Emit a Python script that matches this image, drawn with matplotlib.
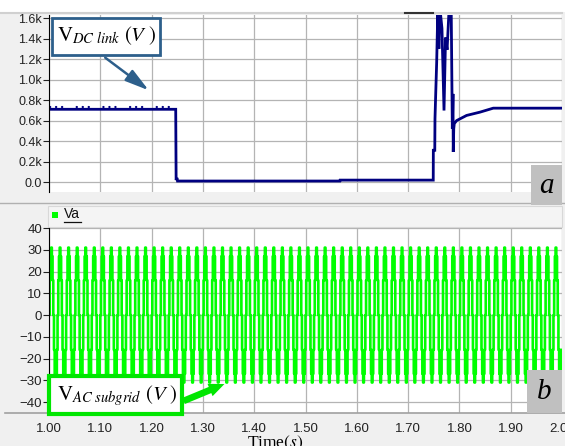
import matplotlib
matplotlib.use("Agg")
import matplotlib.pyplot as plt
from matplotlib.patches import Rectangle, FancyArrowPatch
from matplotlib.lines import Line2D
import numpy as np

plt.rcParams['font.family'] = ['Liberation Sans', 'DejaVu Sans']
plt.rcParams['mathtext.fontset'] = 'stix'

# --- data ---
# DC link voltage (V) vs time (s)
t_dc = [1.000, 1.2470, 1.2478, 1.2485, 1.2500, 1.2505, 1.5670, 1.5675, 1.7490,
        1.7492, 1.7520, 1.7524, 1.7540, 1.7557, 1.7580, 1.7600, 1.7620, 1.7660,
        1.7700, 1.7730, 1.7760, 1.7800, 1.7840, 1.7862, 1.7875, 1.7880, 1.7890,
        1.7900, 1.7947, 1.8140, 1.8400, 1.8660, 2.000]
v_dc = [710, 710, 19, 29, 29, 10, 10, 19, 19,
        310, 310, 618, 890, 1167, 1700, 1300, 1700, 1500,
        698, 1410, 1290, 1700, 1700, 520, 860, 294, 520,
        570, 600, 650, 682, 721, 721]
# ripple dots on top of the initial DC level
t_ripple = [1.002, 1.245]
v_ripple = [730, 730]

# AC subgrid voltage: one stepped 60 Hz cycle, repeated over the window
ac_freq = 60
ac_cycle = [0, 16, 27, 31, 27, 16, 0, -16, -27, -31, -27, -16]
n_cycles = 60

dc_ticks = [0, 200, 400, 600, 800, 1000, 1200, 1400, 1600]
dc_ticklabels = ['0.0', '0.2k', '0.4k', '0.6k', '0.8k', '1.0k', '1.2k', '1.4k', '1.6k']
ac_ticks = [-40, -30, -20, -10, 0, 10, 20, 30, 40]
time_ticks = [1.0, 1.1, 1.2, 1.3, 1.4, 1.5, 1.6, 1.7, 1.8, 1.9, 2.0]
time_ticklabels = ['1.00', '1.10', '1.20', '1.30', '1.40', '1.50', '1.60', '1.70', '1.80', '1.90', '2.00']

ac_vals = np.tile(ac_cycle, n_cycles)
t_ac = 1.0 + np.arange(len(ac_vals)) / (ac_freq * len(ac_cycle))

W, H = 565, 446
fig = plt.figure(figsize=(W / 100, H / 100), dpi=100, facecolor='#f0f0f0')


def box(x0, y0, x1, y1):
    # pixel box (top-left origin) -> figure fraction rect
    return [x0 / W, 1 - y1 / H, (x1 - x0) / W, (y1 - y0) / H]


def pt(x, y):
    return (x / W, 1 - y / H)


def frect(x0, y0, x1, y1, **kw):
    r = box(x0, y0, x1, y1)
    p = Rectangle((r[0], r[1]), r[2], r[3], transform=fig.transFigure, **kw)
    fig.add_artist(p)
    return p


def fline(x0, y0, x1, y1, **kw):
    a, b = pt(x0, y0)
    c, d = pt(x1, y1)
    fig.add_artist(Line2D([a, c], [b, d], transform=fig.transFigure, **kw))


# background bits
frect(0, 0, 565, 12, facecolor='white', edgecolor='none', zorder=-2)
fline(0, 13, 562, 13, color='#d0d0d0', lw=1.5, zorder=-1)
fline(405, 13, 433, 13, color='#333333', lw=1.5, zorder=-1)
fline(0, 203, 565, 203, color='#b0b0b0', lw=1, zorder=-1)
frect(48, 206, 562, 227, facecolor='#f4f4f4', edgecolor='#d8d8d8', lw=0.8, zorder=-1)

grid_kw = dict(color='#b4b4b4', lw=0.9)

# --- top panel: DC link ---
ax1 = fig.add_axes(box(49, 15, 562, 192))
ax1.plot(t_dc, v_dc, color='#000080', lw=2.0, solid_joinstyle='miter')
ax1.plot(t_ripple, v_ripple, color='#000080', lw=1.6, dash_capstyle='round',
         linestyle=(0, (0.1, 2.6, 0.1, 2.6, 0.1, 6.5)))
ax1.set_xlim(1.0, 2.0)
ax1.set_ylim(-97, 1630)
ax1.set_yticks(dc_ticks)
ax1.set_yticklabels(dc_ticklabels)
ax1.set_xticks(time_ticks)
ax1.tick_params(axis='x', length=0, labelbottom=False)
ax1.tick_params(axis='y', length=4, width=0.8, pad=1, labelsize=9, colors='#222222')
ax1.grid(True, **grid_kw)
for s in ['top', 'right', 'bottom']:
    ax1.spines[s].set_visible(False)
ax1.spines['left'].set_color('black')

# --- bottom panel: AC subgrid ---
ax2 = fig.add_axes(box(49, 228, 562, 413))
ax2.plot(t_ac, ac_vals, color='#00ff00', lw=1.9, drawstyle='steps-post')
ax2.set_xlim(1.0, 2.0)
ax2.set_ylim(-45, 40)
ax2.set_yticks(ac_ticks)
ax2.set_xticks(time_ticks)
ax2.set_xticklabels(time_ticklabels)
ax2.tick_params(axis='x', length=0, pad=7, labelsize=9.5, colors='#222222')
ax2.tick_params(axis='y', length=4, width=0.8, pad=1, labelsize=9.5, colors='#222222')
ax2.grid(True, **grid_kw)
for s in ['top', 'right', 'bottom']:
    ax2.spines[s].set_visible(False)
ax2.spines['left'].set_color('black')
fline(5, 413, 565, 413, color='#a0a0a0', lw=1.2, zorder=3)

# legend strip
frect(52, 212, 58, 218, facecolor='#00ff00', edgecolor='none', zorder=3)
fig.text(*pt(64, 218), 'Va', fontsize=10, color='#111111', va='baseline', zorder=3)
fline(64, 221.5, 81, 221.5, color='#111111', lw=0.9, zorder=3)

fig.text(*pt(275, 434), r'Time$(s)$', fontsize=12.5, family='Liberation Serif',
         ha='center', va='top')

# annotation boxes
blue = '#2d5f8b'
frect(52, 18, 160, 55, facecolor='white', edgecolor=blue, lw=2.0, zorder=5)
fig.text(*pt(57, 41), r'$\mathrm{V}_{DC\ link}\ (V\ )$', fontsize=15, va='baseline', zorder=6)
fig.add_artist(FancyArrowPatch(pt(103, 56), pt(151, 92), transform=fig.transFigure,
                               arrowstyle='-|>,head_length=0.9,head_width=0.25',
                               mutation_scale=16, color=blue, lw=1.8, zorder=5))

green = '#00e600'
frect(49, 376, 182, 414, facecolor='white', edgecolor=green, lw=3.0, zorder=5)
fig.text(*pt(57, 400), r'$\mathrm{V}_{AC\ subgrid}\ (V\ )$', fontsize=15, va='baseline', zorder=6)
fig.add_artist(FancyArrowPatch(pt(181, 402), pt(227, 383), transform=fig.transFigure,
                               arrowstyle='simple,head_length=0.7,head_width=0.6,tail_width=0.3',
                               mutation_scale=16, color=green, lw=0, zorder=5))

# panel letters
frect(531, 165, 562, 205, facecolor='#c0c0c0', edgecolor='none', zorder=5)
fig.text(*pt(546.5, 186), 'a', fontsize=21, family='Liberation Serif', style='italic',
         ha='center', va='center', zorder=6)
frect(527, 370, 562, 413, facecolor='#c0c0c0', edgecolor='none', zorder=5)
fig.text(*pt(544.5, 392), 'b', fontsize=21, family='Liberation Serif', style='italic',
         ha='center', va='center', zorder=6)

fig.savefig('out.png', dpi=100, facecolor=fig.get_facecolor())
